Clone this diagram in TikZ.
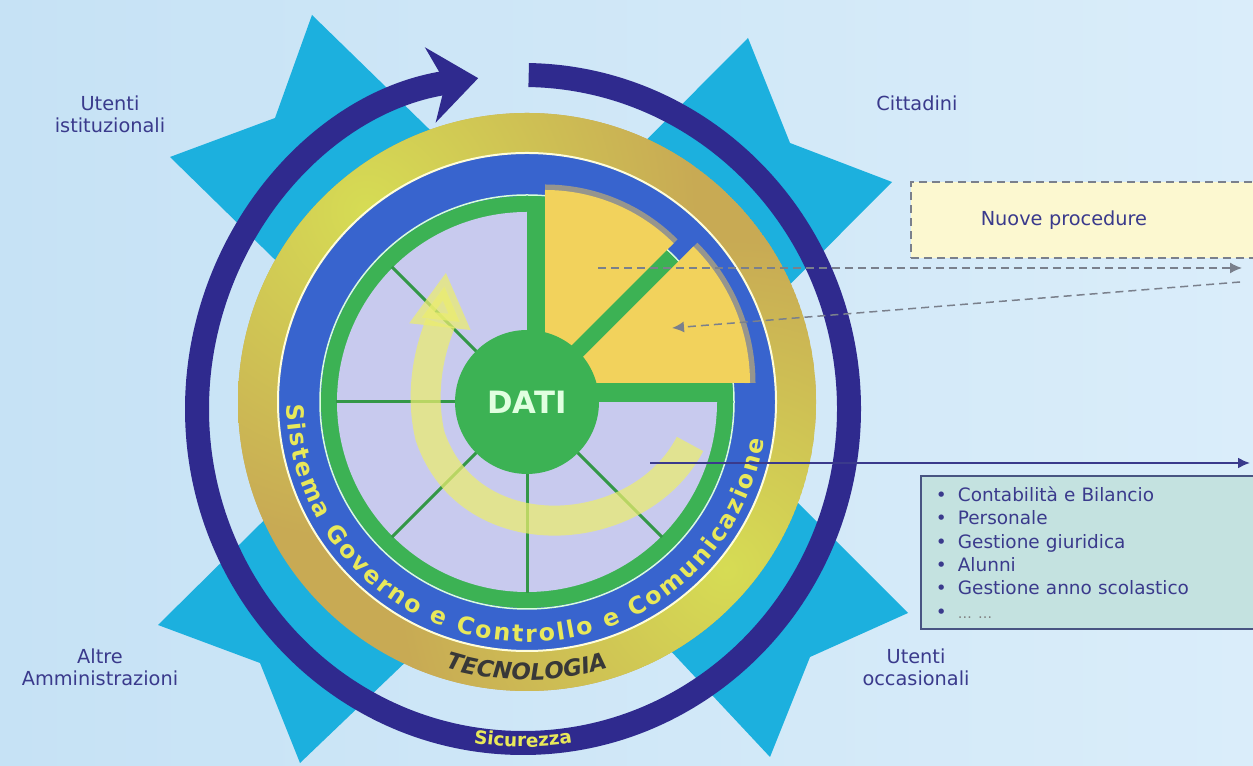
\documentclass[tikz,border=0pt]{standalone}
\usepackage{fontspec}
\setmainfont{DejaVu Sans}
\usetikzlibrary{arrows.meta,decorations.text,calc}

\definecolor{bgleft}{RGB}{198,226,245}
\definecolor{bgright}{RGB}{218,237,250}
\definecolor{stararm}{RGB}{28,176,222}
\definecolor{secring}{RGB}{47,42,142}
\definecolor{techtan}{RGB}{200,170,84}
\definecolor{techlime}{RGB}{214,220,84}
\definecolor{govblue}{RGB}{56,100,206}
\definecolor{datagreen}{RGB}{60,178,84}
\definecolor{sectorlav}{RGB}{200,202,238}
\definecolor{procyellow}{RGB}{242,210,92}
\definecolor{flowyellow}{RGB}{236,238,110}
\definecolor{ringtext}{RGB}{232,232,90}
\definecolor{labelblue}{RGB}{58,58,140}
\definecolor{newbox}{RGB}{252,248,208}
\definecolor{listbox}{RGB}{196,226,224}
\definecolor{listedge}{RGB}{72,84,130}
\definecolor{dashgray}{RGB}{122,128,140}

\begin{document}
\begin{tikzpicture}[x=0.02cm, y=0.02cm, font=\fontsize{11}{12.5}\selectfont,
    usergroup/.style={text=labelblue, align=center},
    flowdash/.style={dashgray, line width=0.03cm, dash pattern=on 0.16cm off 0.1cm},
    smalltip/.style={-{Latex[length=0.24cm, width=0.22cm]}}]

    % Canvas
    \useasboundingbox (0,0) rectangle (1253,766);
    \clip (0,0) rectangle (1253,766);
    \shade[left color=bgleft, right color=bgright] (0,0) rectangle (1253,766);
    \coordinate (C) at (527,364);
    \coordinate (D) at (523,357);

    % Star behind the rings
    \fill[stararm] (312,751) -- (545,524) -- (748,728) -- (790,623) -- (892,584) -- (685,376)
        -- (908,153) -- (810,109) -- (770,9) -- (551,243) -- (300,3) -- (260,103)
        -- (158,141) -- (402,382) -- (170,609) -- (275,648) -- cycle;

    % Sicurezza ring with arrow
    \draw[secring, line width=0.48cm, -{Stealth[length=0.96cm, width=1.5cm, inset=0.3cm]}]
        ([shift={(89:326 and 334)}]D) arc[start angle=89, end angle=-262.1, x radius=326, y radius=334];
    \path[decorate, decoration={text along path, text color=ringtext, text align=center,
        text={|\bfseries\fontsize{10.5}{10.5}\selectfont|Sicurezza}}]
        ([shift={(240:330 and 338)}]D) arc[start angle=240, end angle=300, x radius=330, y radius=338];

    % Tecnologia ring
    \begin{scope}
        \clip (C) circle (289);
        \fill[techtan] (C) circle (289);
        \shade[inner color=techlime, outer color=techtan] ($(C)+(130:250)$) circle (330);
        \shade[inner color=techlime, outer color=techtan] ($(C)+(-40:260)$) circle (330);
    \end{scope}
    \path[decorate, decoration={text along path, text color=black!78, text align=center,
        text={|\bfseries\itshape\fontsize{13}{13}\selectfont|TECNOLOGIA}}]
        ([shift={(220:278)}]C) arc[start angle=220, end angle=320, radius=278];

    % Governo ring
    \fill[govblue] (C) circle (249);
    \draw[white!85!yellow, line width=0.04cm] (C) circle (249);
    \fill[datagreen] (C) circle (206);
    \draw[white!85!green, line width=0.03cm] (C) circle (207);
    \path[decorate, decoration={text along path, text color=ringtext, text align={fit to path},
        text={|\bfseries\fontsize{13.5}{13.5}\selectfont|Sistema Governo e Controllo e Comunicazione}}]
        ([shift={(180.5:240)}]C) arc[start angle=180.5, end angle=351, radius=240];

    % Wheel of sectors
    \fill[sectorlav] (C) circle (190);
    \foreach \a in {135,180,225,270,315}
        \draw[datagreen!85!black, line width=0.06cm] (C) -- ++(\a:191);
    \draw[flowyellow, opacity=0.72, line width=0.6cm, -{Triangle[length=1.1cm, width=1.15cm]}]
        (690,322) .. controls (640,225) and (470,212) .. (430,330)
        .. controls (416,390) and (440,440) .. (446,494);

    % New procedures sectors
    \fill[datagreen] (C) -- ++(0:206) arc[start angle=0, end angle=90, radius=206] -- cycle;
    \coordinate (Aapex) at ($(C)+(18,30)$);
    \coordinate (Bapex) at ($(C)+(30,19)$);
    \draw[procyellow!85!orange, line width=0.22cm, opacity=0.5]
        ([shift={(45:182)}]Aapex) arc[start angle=45, end angle=90, radius=182];
    \draw[procyellow!85!orange, line width=0.22cm, opacity=0.5]
        ([shift={(0:193)}]Bapex) arc[start angle=0, end angle=45, radius=193];
    \fill[procyellow] (Aapex) -- ++(45:182) arc[start angle=45, end angle=90, radius=182] -- cycle;
    \fill[procyellow] (Bapex) -- ++(0:193) arc[start angle=0, end angle=45, radius=193] -- cycle;

    % Data core
    \node[circle, fill=datagreen, minimum size=2.88cm, text=white!88!green,
        font=\bfseries\fontsize{17.5}{17.5}\selectfont] (dati) at (C) {DATI};

    % User groups
    \node[usergroup] (istituz) at (110,652) {Utenti\\istituzionali};
    \node[usergroup] (cittad) at (917,663) {Cittadini};
    \node[usergroup] (altre) at (100,99) {Altre\\Amministrazioni};
    \node[usergroup] (occas) at (916,99) {Utenti\\occasionali};

    % Boxes on the right
    \node[draw=dashgray, line width=0.03cm, dash pattern=on 0.16cm off 0.1cm, fill=newbox,
        anchor=west, minimum height=1.52cm, text width=4.4cm, inner xsep=1.4cm, align=left,
        text=labelblue] (nuove) at (910,546) {Nuove procedure};
    \node[draw=listedge, line width=0.035cm, fill=listbox, anchor=north west,
        minimum height=3.06cm, text width=6.3cm, inner xsep=0.3cm, align=left, text=labelblue,
        font=\fontsize{10.5}{13.3}\selectfont] (moduli) at (920,291)
        {\makebox[0.44cm][l]{\textbullet}Contabilità e Bilancio\\
         \makebox[0.44cm][l]{\textbullet}Personale\\
         \makebox[0.44cm][l]{\textbullet}Gestione giuridica\\
         \makebox[0.44cm][l]{\textbullet}Alunni\\
         \makebox[0.44cm][l]{\textbullet}Gestione anno scolastico\\
         \makebox[0.44cm][l]{\textbullet}{\color{gray}\footnotesize … …}};

    % Flows
    \coordinate (outA) at (598,498);
    \coordinate (outB) at (1242,498);
    \coordinate (inA) at (1240,484);
    \coordinate (inB) at (672,438);
    \coordinate (modA) at (650,303);
    \coordinate (modB) at (1250,303);
    \draw[flowdash, smalltip] (outA) -- (outB);
    \draw[flowdash, smalltip] (inA) -- (inB);
    \draw[labelblue, line width=0.04cm, smalltip] (modA) -- (modB);

\end{tikzpicture}
\end{document}
